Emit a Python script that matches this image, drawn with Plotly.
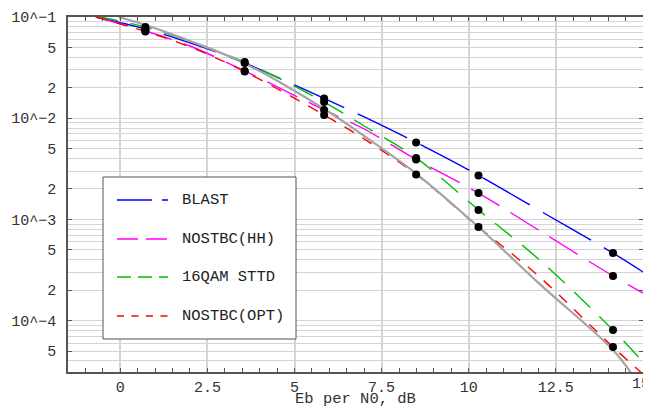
import plotly.graph_objects as go

# ---- data ----
EBN0 = [-0.7, 0.72, 2.0, 3.57, 5.85, 7.0, 8.49, 10.28, 12.0, 14.14, 15.0]
BLAST = [0.1, 0.0761, 0.0554, 0.0351, 0.01566, 0.01028, 0.00575, 0.00272, 0.00124, 4.65e-4, 3.02e-4]
NOSTBC_HH = [0.1, 0.0727, 0.0517, 0.0293, 0.01205, 0.00782, 0.00391, 0.00182, 7.85e-4, 2.76e-4, 1.87e-4]
QAM16_STTD = [0.102, 0.0796, 0.0573, 0.0359, 0.01445, 0.00837, 0.00405, 0.00124, 4.06e-4, 8.07e-5, 3.9e-5]
NOSTBC_OPT = [0.1, 0.0719, 0.0506, 0.0289, 0.01076, 0.00623, 0.00278, 8.41e-4, 2.76e-4, 5.48e-5, 2.96e-5]
DOT_IDX = [1, 3, 4, 6, 7, 9]

REF_EBN0 = [-0.05, 0.72, 2.0, 3.57, 5.85, 7.0, 8.49, 10.28, 12.0, 14.14, 14.7]
REF_CURVE = [0.1, 0.0834, 0.058, 0.0348, 0.01233, 0.00667, 0.00284, 8.41e-4, 2.36e-4, 5.12e-5, 2.9e-5]

NAMES = ["BLAST", "NOSTBC(HH)", "16QAM STTD", "NOSTBC(OPT)"]
COLORS = ["#0000ff", "#ff00ff", "#00c000", "#ff0000"]
PLOT_DASH = ["55px,15px", "33px,13px", "22px,13px", "11px,10px"]
LEGEND_DASH = ["35px,10px,6px,10px", "21px,8px", "14px,7px", "7px,7.5px"]

X_TICKS = [0, 2.5, 5, 7.5, 10, 12.5, 15]
X_TICK_TEXT = ["0", "2.5", "5", "7.5", "10", "12.5", "15"]
X_TITLE = "Eb per N0, dB"
Y_TICKS = [1e-1, 5e-2, 2e-2, 1e-2, 5e-3, 2e-3, 1e-3, 5e-4, 2e-4, 1e-4, 5e-5]
Y_TICK_TEXT = ["10^\u22121", "5", "2", "10^\u22122", "5", "2", "10^\u22123", "5", "2", "10^\u22124", "5"]
Y_MINOR = [m * 10.0 ** e for e in range(-5, -1) for m in range(1, 10)]

SERIES = [BLAST, NOSTBC_HH, QAM16_STTD, NOSTBC_OPT]

FONT = "Liberation Mono"
# the page body adds an 8px offset; figure is sized/margined to compensate
OFF = 8
W, H = 651, 408
ML, MR, MT, MB = 60, 16, 9, 44
PW, PH = W - ML - MR, H - MT - MB

fig = go.Figure()

for ys, name, col, dash in zip(SERIES, NAMES, COLORS, PLOT_DASH):
    fig.add_trace(go.Scatter(x=EBN0, y=ys, mode="lines", name=name, showlegend=False,
                             line=dict(color=col, width=1.4, dash=dash, shape="spline")))

fig.add_trace(go.Scatter(x=REF_EBN0, y=REF_CURVE, mode="lines", showlegend=False,
                         line=dict(color="#a4a4a4", width=2.2, shape="spline")))

for ys in SERIES:
    fig.add_trace(go.Scatter(x=[EBN0[i] for i in DOT_IDX], y=[ys[i] for i in DOT_IDX],
                             mode="markers", showlegend=False,
                             marker=dict(color="black", size=8)))


def px_x(p):
    return (p - OFF - ML) / PW


def px_y(p):
    return (MT + PH - (p - OFF)) / PH


shapes = [dict(type="rect", xref="paper", yref="paper",
               x0=px_x(103), x1=px_x(296), y0=px_y(339), y1=px_y(177),
               line=dict(color="#555555", width=1), fillcolor="white", layer="above")]
annotations = []
row_y = [200, 239, 277, 316]
for name, col, dash, ry in zip(NAMES, COLORS, LEGEND_DASH, row_y):
    shapes.append(dict(type="line", xref="paper", yref="paper",
                       x0=px_x(117), x1=px_x(168), y0=px_y(ry), y1=px_y(ry),
                       line=dict(color=col, width=1.4, dash=dash), layer="above"))
    annotations.append(dict(xref="paper", yref="paper", x=px_x(180), y=px_y(ry),
                            xanchor="left", yanchor="middle", showarrow=False,
                            text=name, font=dict(family=FONT, size=15.5, color="#222222")))

annotations.append(dict(xref="paper", yref="paper", x=px_x(355), y=px_y(399.5),
                        xanchor="center", yanchor="middle", showarrow=False,
                        text=X_TITLE, font=dict(family=FONT, size=15.5, color="#333333")))

# last x tick label placed as annotation (sits at the right page edge)
annotations.append(dict(xref="paper", yref="paper", x=px_x(641), y=px_y(384),
                        xanchor="center", yanchor="middle", showarrow=False,
                        text=X_TICK_TEXT[-1], font=dict(family=FONT, size=15, color="#333333")))
X_TEXT_SHOWN = X_TICK_TEXT[:-1] + [""]

axis_common = dict(showline=True, linecolor="#555555", linewidth=1.6, mirror="ticks",
                   ticks="inside", ticklen=4, tickcolor="#555555", tickwidth=1,
                   zeroline=False, automargin=False, ticklabeloverflow="allow",
                   tickfont=dict(family=FONT, size=15, color="#333333"))

fig.update_layout(
    width=W, height=H,
    margin=dict(l=ML, r=MR, t=MT, b=MB, autoexpand=False),
    paper_bgcolor="white", plot_bgcolor="white",
    showlegend=False,
    shapes=shapes, annotations=annotations,
    xaxis=dict(range=[-1.5, 15.001], tickmode="array", tickvals=X_TICKS, ticktext=X_TEXT_SHOWN,
               showgrid=True, gridcolor="#d4d4d4", gridwidth=1.6,
               minor=dict(tickmode="linear", tick0=0, dtick=0.5, ticks="inside",
                          ticklen=4, tickcolor="#555555", showgrid=False),
               **axis_common),
    yaxis=dict(type="log", range=[-4.508, -1], tickmode="array", tickvals=Y_TICKS,
               ticktext=Y_TICK_TEXT, showgrid=True, gridcolor="#d4d4d4", gridwidth=1.4,
               minor=dict(tickmode="array", tickvals=Y_MINOR, ticks="", showgrid=True,
                          gridcolor="#d4d4d4", gridwidth=1.4),
               ticklabelstandoff=7,
               **axis_common),
)

fig.write_html("out.html")
